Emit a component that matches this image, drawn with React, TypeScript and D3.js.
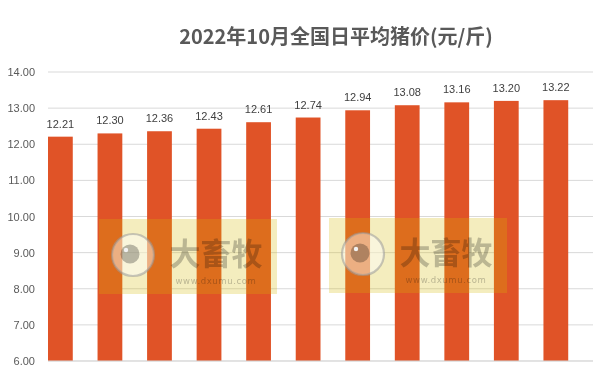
import React from "react";
import * as d3 from "d3";

const days = ["1", "2", "3", "4", "5", "6", "7", "8", "9", "10", "11"];
const prices = [12.21, 12.3, 12.36, 12.43, 12.61, 12.74, 12.94, 13.08, 13.16, 13.2, 13.22];
const yTicks = [6, 7, 8, 9, 10, 11, 12, 13, 14];
const titleText = "2022年10月全国日平均猪价(元/斤)";
const watermarkText = "大畜牧";
const watermarkUrl = "www.dxumu.com";

const W = 609;
const H = 379;
const margin = { left: 48, right: 16, top: 72, bottom: 18 };

function Watermark({ x, y }: { x: number; y: number }) {
  // x,y = top-left of the watermark box
  const cx = x + 34;
  const cy = y + 36;
  return (
    <g>
      <rect x={x} y={y} width={178} height={75} fill="#D5B903" opacity={0.26} />
      <circle cx={cx} cy={cy} r={21} fill="#ffffff" opacity={0.45} />
      <circle cx={cx} cy={cy} r={21} fill="none" stroke="#9a9a9a" strokeWidth={2.2} opacity={0.55} />
      <circle cx={cx - 3} cy={cy - 1} r={9.5} fill="#bdbdbd" style={{ mixBlendMode: "multiply" }} />
      <circle cx={cx - 7} cy={cy - 5} r={2.2} fill="#f2f2f2" />
      <text
        x={x + 117}
        y={y + 46}
        textAnchor="middle"
        fontFamily="'Noto Sans CJK SC', sans-serif"
        fontWeight={700}
        fontSize={31}
        fill="#c4c4c4"
        style={{ mixBlendMode: "multiply" }}
      >
        {watermarkText}
      </text>
      <text
        x={x + 117}
        y={y + 65}
        textAnchor="middle"
        fontFamily="'DejaVu Sans', sans-serif"
        fontSize={8.5}
        letterSpacing={0.6}
        fill="#c4c4c4"
        style={{ mixBlendMode: "multiply" }}
      >
        {watermarkUrl}
      </text>
    </g>
  );
}

export default function App() {
  const plotW = W - margin.left - margin.right;
  const x = d3.scaleBand<string>().domain(days).range([margin.left, margin.left + plotW]).paddingInner(0).paddingOuter(0);
  const y = d3.scaleLinear().domain([6, 14]).range([H - margin.bottom, margin.top]);
  const barW = x.bandwidth() * 0.5;

  return (
    <svg width={W} height={H} style={{ position: "absolute", left: 0, top: 0, background: "#fff" }}>
      <rect width={W} height={H} fill="#fff" />
      <text
        x={336}
        y={44}
        textAnchor="middle"
        fontFamily="'Noto Sans CJK SC', sans-serif"
        fontWeight={700}
        fontSize={20}
        fill="#595959"
      >
        {titleText}
      </text>
      {yTicks.map((t) => (
        <g key={t}>
          <line x1={margin.left} x2={margin.left + plotW} y1={y(t)} y2={y(t)} stroke="#d9d9d9" strokeWidth={1} />
          <text
            x={35}
            y={y(t) + 4}
            textAnchor="end"
            fontFamily="'Liberation Sans', Arial, sans-serif"
            fontSize={11}
            fill="#595959"
          >
            {d3.format(".2f")(t)}
          </text>
        </g>
      ))}
      {prices.map((v, i) => {
        const bx = x(days[i])!;
        return (
          <g key={i}>
            <rect x={bx} y={y(v)} width={barW} height={y(6) - y(v)} fill="#E05327" />
            <text
              x={bx + barW / 2}
              y={y(v) - 9}
              textAnchor="middle"
              fontFamily="'Liberation Sans', Arial, sans-serif"
              fontSize={11}
              fill="#404040"
            >
              {d3.format(".2f")(v)}
            </text>
          </g>
        );
      })}
      <line x1={margin.left} x2={margin.left + plotW} y1={y(6)} y2={y(6)} stroke="#d9d9d9" strokeWidth={1} />
      <Watermark x={99} y={219} />
      <Watermark x={329} y={218} />
    </svg>
  );
}
